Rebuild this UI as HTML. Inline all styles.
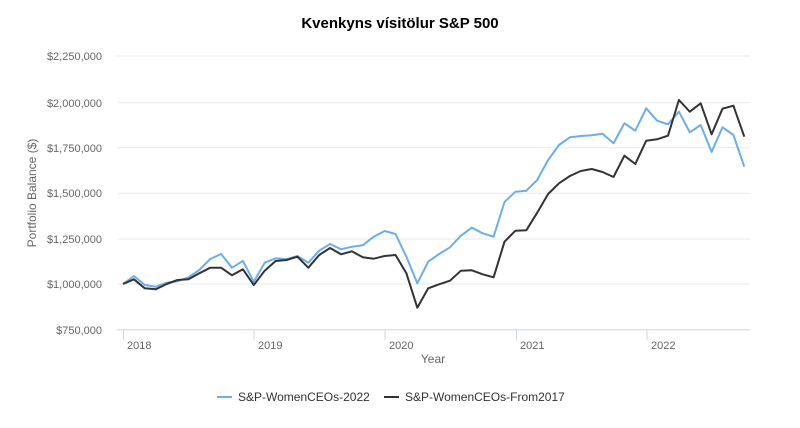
<!DOCTYPE html>
<html><head><meta charset="utf-8"><style>
html,body{margin:0;padding:0;background:#fff;width:800px;height:428px;overflow:hidden}
svg{display:block}
text{font-family:"Liberation Sans",sans-serif}
</style></head><body>
<svg id="s" width="800" height="428" viewBox="0 0 800 428">
<text x="400" y="28" text-anchor="middle" font-size="15" font-weight="bold" fill="#000">Kvenkyns vísitölur S&amp;P 500</text>
<g stroke="#e6e8ec" stroke-width="1">
<line x1="117" x2="750" y1="56" y2="56"/><line x1="117" x2="750" y1="102.7" y2="102.7"/>
<line x1="117" x2="750" y1="147.7" y2="147.7"/><line x1="117" x2="750" y1="193.3" y2="193.3"/>
<line x1="117" x2="750" y1="239" y2="239"/><line x1="117" x2="750" y1="284" y2="284"/>
</g>
<line x1="117" x2="750" y1="329.7" y2="329.7" stroke="#ccd6eb" stroke-width="1"/>
<g stroke="#ccd6eb"><line x1="123.5" x2="123.5" y1="330" y2="340"/><line x1="254" x2="254" y1="330" y2="340"/><line x1="385" x2="385" y1="330" y2="340"/><line x1="516.5" x2="516.5" y1="330" y2="340"/><line x1="647" x2="647" y1="330" y2="340"/></g>
<g font-size="11" fill="#666" text-anchor="end">
<text x="102" y="60">$2,250,000</text><text x="102" y="107">$2,000,000</text><text x="102" y="152">$1,750,000</text><text x="102" y="197">$1,500,000</text><text x="102" y="243">$1,250,000</text><text x="102" y="288">$1,000,000</text><text x="102" y="334">$750,000</text>
</g>
<g font-size="11" fill="#666">
<text x="127" y="349">2018</text><text x="258" y="349">2019</text><text x="389" y="349">2020</text><text x="520" y="349">2021</text><text x="651" y="349">2022</text>
</g>
<text x="433" y="363" font-size="12" fill="#666" text-anchor="middle">Year</text>
<text transform="translate(36,193) rotate(-90)" font-size="12" fill="#666" text-anchor="middle">Portfolio Balance ($)</text>
<polyline id="b" fill="none" stroke="#6aaef0" stroke-width="2" stroke-linejoin="round"/>
<polyline id="k" fill="none" stroke="#333333" stroke-width="2" stroke-linejoin="round"/>
<line x1="217" x2="232" y1="397" y2="397" stroke="#6aaef0" stroke-width="2"/>
<text x="238" y="401" font-size="12" fill="#333">S&amp;P-WomenCEOs-2022</text>
<line x1="384" x2="399" y1="397" y2="397" stroke="#333" stroke-width="2"/>
<text x="405" y="401" font-size="12" fill="#333">S&amp;P-WomenCEOs-From2017</text>
</svg>
<script>
var B=[732,708,735,740,728,724,712,690,657,642,683,663,725,668,655,658,648,668,632,612,628,620,616,590,573,582,650,730,665,642,622,587,563,580,590,486,455,452,420,360,315,292,288,286,281,310,250,272,205,242,253,215,277,255,336,262,285,380];
var K=[732,718,745,748,732,720,718,700,683,683,706,688,735,692,663,660,650,683,645,624,643,634,652,656,648,645,700,803,745,733,722,692,691,703,712,605,572,571,518,462,430,408,393,387,396,411,347,372,302,298,287,180,215,190,283,206,197,290];
function p(a){return a.map(function(v,i){return (123+i*10.9).toFixed(1)+","+(40+v/3).toFixed(1)}).join(" ")}
document.getElementById("b").setAttribute("points",p(B));
document.getElementById("k").setAttribute("points",p(K));
</script>
</body></html>
